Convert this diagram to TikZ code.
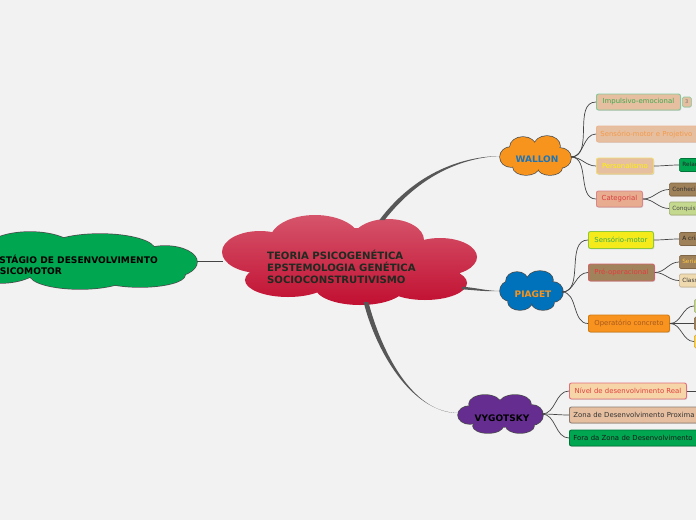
\documentclass[tikz,border=0pt]{standalone}
\usepackage{fontspec}
\setmainfont{DejaVu Sans}
\usetikzlibrary{calc,shadows}
\definecolor{bg}{HTML}{F2F2F2}
\definecolor{lnk}{HTML}{444444}
\definecolor{peach}{HTML}{E6BFA0}
\definecolor{gborder}{HTML}{82C99A}
\definecolor{gtext}{HTML}{3AAA50}
\definecolor{otext}{HTML}{F39A4A}
\definecolor{oborder}{HTML}{EBB592}
\definecolor{yborder}{HTML}{EFDC72}
\definecolor{ytext}{HTML}{FFF200}
\definecolor{rborder}{HTML}{D9868A}
\definecolor{rtext}{HTML}{D94040}
\definecolor{mgreen}{HTML}{00A650}
\definecolor{dgreen}{HTML}{00753A}
\definecolor{brownb}{HTML}{9E8059}
\definecolor{lgreen}{HTML}{C4D88E}
\definecolor{tan}{HTML}{EFDAB0}
\definecolor{yel}{HTML}{F5EB1B}
\definecolor{ybox}{HTML}{FFD24A}
\definecolor{ygborder}{HTML}{8DC63F}
\definecolor{prefill}{HTML}{A0835A}
\definecolor{preborder}{HTML}{D4626A}
\definecolor{pretext}{HTML}{E8393F}
\definecolor{orng}{HTML}{F7931E}
\definecolor{orborder}{HTML}{D07A10}
\definecolor{optext}{HTML}{A8581E}
\definecolor{wheat}{HTML}{F6D5A8}
\definecolor{nborder}{HTML}{E2707A}
\definecolor{ntext}{HTML}{E3403F}
\definecolor{zborder}{HTML}{8C7B70}
\definecolor{walfill}{HTML}{F7941D}
\definecolor{waltext}{HTML}{1B75BB}
\definecolor{piafill}{HTML}{0072BC}
\definecolor{piatext}{HTML}{F7941D}
\definecolor{vygfill}{HTML}{662D91}
\definecolor{redtop}{HTML}{D6566C}
\definecolor{redbot}{HTML}{C10E30}
\definecolor{ctext}{HTML}{1F2A20}
\newcommand\mycloud[2]{%
  \foreach \cx/\cy/\ra/\rb in {#2}
    \draw[line width=1.4pt, draw=black!70] (\cx,\cy) ellipse[x radius=\ra, y radius=\rb];
  \foreach \cx/\cy/\ra/\rb in {#2}
    \fill[#1] (\cx,\cy) ellipse[x radius=\ra, y radius=\rb];
}
\begin{document}
\begin{tikzpicture}[x=1pt,y=-1pt,
  link/.style={draw=lnk, line width=0.7pt},
  mainlink/.style={fill=lnk!90},
  box/.style={draw, rounded corners=2pt, line width=0.9pt, minimum height=16, inner xsep=4pt, inner ysep=0pt, anchor=west,
    font=\fontsize{6.9}{7}\selectfont, drop shadow={opacity=0.25, shadow xshift=0.8pt, shadow yshift=-0.9pt}},
  smallbox/.style={draw, rounded corners=1.5pt, line width=0.6pt, minimum height=13, inner xsep=3pt, inner ysep=0pt, anchor=west,
    font=\fontsize{5.8}{6}\selectfont, drop shadow={opacity=0.2, shadow xshift=0.6pt, shadow yshift=-0.6pt}},
  cloudlabel/.style={font=\bfseries\fontsize{9}{10}\selectfont, inner sep=0pt}]
\useasboundingbox[fill=bg] (0,0) rectangle (696,520);

% ---------- clouds ----------
% left green cloud
\mycloud{mgreen}{30/250/45/18, 100/250/55/16, 165/262/32/16, 140/275/45/12, 80/275/50/14, 0/265/40/18, 90/262/80/18}
\node[anchor=west, align=left, inner sep=0pt, font=\bfseries\fontsize{9.1}{11}\selectfont] (edm) at (-7,264.5)
  {ESTÁGIO DE DESENVOLVIMENTO\\PSICOMOTOR};
\coordinate (edmR) at (197,261);

% central cloud
\begin{scope}
  \clip (315,240) ellipse[x radius=45, y radius=25] (388,240) ellipse[x radius=36, y radius=21]
        (440,257) ellipse[x radius=37, y radius=19] (425,283) ellipse[x radius=42, y radius=17]
        (360,287) ellipse[x radius=45, y radius=18] (288,280) ellipse[x radius=43, y radius=17]
        (260,252) ellipse[x radius=38, y radius=21] (350,260) ellipse[x radius=85, y radius=32];
  \shade[top color=redtop, bottom color=redbot] (215,213) rectangle (480,307);
\end{scope}
\node[anchor=west, align=left, inner sep=0pt, text=ctext, font=\bfseries\fontsize{10.1}{12}\selectfont] (teoria) at (267,267)
  {TEORIA PSICOGENÉTICA\\EPSTEMOLOGIA GENÉTICA\\SOCIOCONSTRUTIVISMO};
\coordinate (cL) at (223,261);
\coordinate (cW) at (382,220);
\coordinate (cP) at (462,288);
\coordinate (cV) at (366,302);

% main connectors
\draw[link] (edmR) -- (cL);
\coordinate (wIn) at (501,156);
\coordinate (pIn) at (501,291);
\coordinate (vIn) at (459,413);
\fill[mainlink] ($(cW)+(-2.6,0)$) .. controls +(40,-53) and +(-30,0) .. (wIn)
   .. controls +(-30,0.9) and +(40,-51) .. ($(cW)+(2.6,0)$) -- cycle;
\fill[mainlink] ($(cP)+(0,-1.3)$) .. controls +(15,1) and +(-15,0) .. (pIn)
   .. controls +(-15,0.8) and +(15,1) .. ($(cP)+(0,1.3)$) -- cycle;
\fill[mainlink] ($(cV)+(-2.4,0)$) .. controls +(12,48) and +(-48,0) .. (vIn)
   .. controls +(-48,0.9) and +(12,46) .. ($(cV)+(2.4,0)$) -- cycle;

% WALLON
\mycloud{walfill}{523/147/13/10, 547/146/13/10, 560/158/11/10, 550/168/12/7, 526/167/13/8, 511/157/11/10, 536/157/25/12}
\node[cloudlabel, text=waltext] (wallon) at (537,159) {WALLON};
% PIAGET
\mycloud{piafill}{517/281/11/9, 540/280/13/9, 553/292/10/10, 543/303/11/7, 520/302/12/8, 510/291/10/10, 532/291/22/12}
\node[cloudlabel, text=piatext] (piaget) at (533,294) {PIAGET};
% VYGOTSKY
\mycloud{vygfill}{485/404/16/9, 515/404/16/9, 532/415/11/10, 520/426/14/7, 488/426/15/7, 470/415/12/9, 500/415/30/12}
\node[cloudlabel, text=black] (vygotsky) at (502,418) {VYGOTSKY};

\coordinate (wOut) at (571,157);
\coordinate (pOut) at (562,292);
\coordinate (vOut) at (542,414);

% ---------- WALLON boxes ----------
\node[box, fill=peach, draw=gborder, text=gtext, minimum width=84] (imp) at (596,102) {Impulsivo-emocional};
\node[smallbox, fill=peach, draw=gborder, text=black!55, minimum width=9, minimum height=10, inner xsep=0pt, font=\fontsize{5}{5}\selectfont] (three) at (682,102) {3};
\node[box, fill=peach, draw=oborder, text=otext, text width=108, align=left] (sens) at (596,134) {Sensório-motor e Projetivo};
\node[box, fill=peach, draw=yborder, text=ytext, minimum width=57] (pers) at (596,166) {Personalismo};
\node[box, fill=peach!90!red, draw=rborder, text=rtext, minimum width=46] (cat) at (596,199) {Categorial};
\node[smallbox, fill=mgreen, draw=dgreen, text=black!85] (rela) at (679,165) {Relações};
\node[smallbox, fill=brownb, draw=brownb!80!black, text=black!80] (conhec) at (669,189.5) {Conhecimento};
\node[smallbox, fill=lgreen, draw=lgreen!80!black, text=black!70] (conquis) at (669,208.5) {Conquista};

% ---------- PIAGET boxes ----------
\node[box, fill=yel, draw=ygborder, text=gtext, minimum width=65, minimum height=17] (smot) at (588,240) {Sensório-motor};
\node[box, fill=prefill, draw=preborder, text=pretext, minimum width=66, minimum height=17] (preop) at (588,272.5) {Pré-operacional};
\node[box, fill=orng, draw=orborder, text=optext, minimum width=81, minimum height=17] (opconc) at (588,323.5) {Operatório concreto};
\node[smallbox, fill=brownb, draw=brownb!80!black, text=black!85] (acri) at (679,239) {A criança};
\node[smallbox, fill=brownb, draw=brownb!80!black, text=ybox!90!orange] (seri) at (679,262) {Seriação};
\node[smallbox, fill=tan, draw=tan!80!black, text=black!80] (class) at (679,280.5) {Classificação};
\node[smallbox, fill=lgreen, draw=lgreen!80!black, text=black!80] (og) at (694,306) {Conservação};
\node[smallbox, fill=brownb, draw=brownb!80!black, text=black!80] (ob) at (694,323.5) {Reversibilidade};
\node[smallbox, fill=ybox, draw=ybox!80!black, text=black!80] (oy) at (694,341.5) {Operações};

% ---------- VYGOTSKY boxes ----------
\node[box, fill=wheat, draw=nborder, text=ntext, minimum width=117] (nivel) at (569,391) {Nível de desenvolvimento Real};
\node[box, fill=peach, draw=zborder, text=black!80, text width=140, align=left] (zona) at (569,415) {Zona de Desenvolvimento Proxima};
\node[box, fill=mgreen, draw=dgreen, text=black!90, text width=142, align=left] (fora) at (569,438) {Fora da Zona de Desenvolvimento};
\coordinate (nivelR) at (700,391);

% ---------- connectors ----------
\foreach \t in {imp,sens,pers,cat} \draw[link] (wOut) to[out=0,in=180] (\t.west);
\draw[link] (pers.east) to[out=0,in=180] (rela.west);
\foreach \t in {conhec,conquis} \draw[link] (cat.east) to[out=0,in=180] (\t.west);
\foreach \t in {smot,preop,opconc} \draw[link] (pOut) to[out=0,in=180] (\t.west);
\draw[link] (smot.east) to[out=0,in=180] (acri.west);
\foreach \t in {seri,class} \draw[link] (preop.east) to[out=0,in=180] (\t.west);
\foreach \t in {og,ob,oy} \draw[link] (opconc.east) to[out=0,in=180] (\t.west);
\foreach \t in {nivel,zona,fora} \draw[link] (vOut) to[out=0,in=180] (\t.west);
\draw[link] (nivel.east) -- (nivelR);
\end{tikzpicture}
\end{document}
